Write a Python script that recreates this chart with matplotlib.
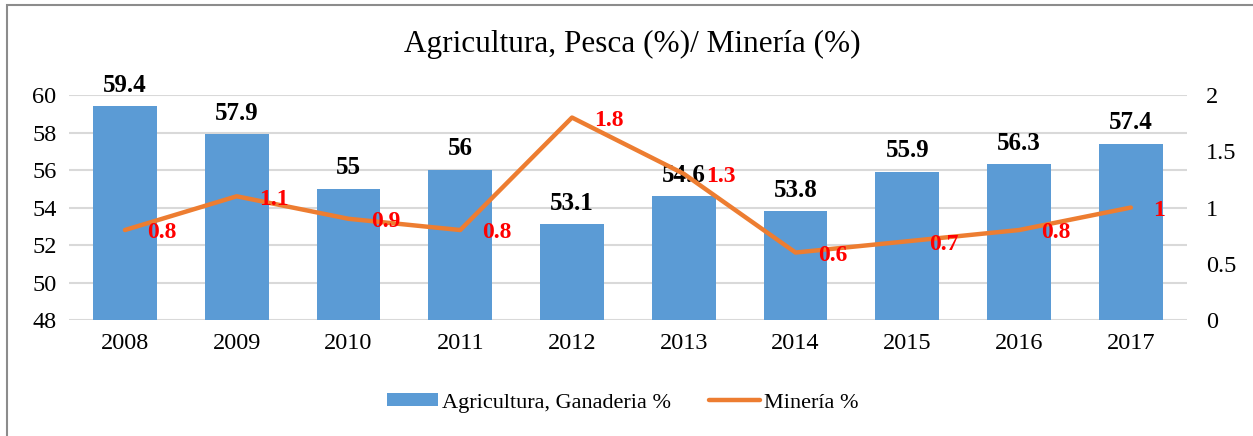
import matplotlib.pyplot as plt
from matplotlib.patches import Rectangle

plt.rcParams['font.family'] = ['Liberation Serif', 'DejaVu Serif']

years = ['2008', '2009', '2010', '2011', '2012', '2013', '2014', '2015', '2016', '2017']
agricultura = [59.4, 57.9, 55, 56, 53.1, 54.6, 53.8, 55.9, 56.3, 57.4]
mineria = [0.8, 1.1, 0.9, 0.8, 1.8, 1.3, 0.6, 0.7, 0.8, 1]
agr_labels = ['59.4', '57.9', '55', '56', '53.1', '54.6', '53.8', '55.9', '56.3', '57.4']
min_labels = ['0.8', '1.1', '0.9', '0.8', '1.8', '1.3', '0.6', '0.7', '0.8', '1']

fig = plt.figure(figsize=(12.53, 4.36), dpi=100)
ax = fig.add_axes([0.0551, 0.266, 0.892, 0.516])
ax2 = ax.twinx()

x = list(range(len(years)))
bars = ax.bar(x, agricultura, width=0.57, color='#5B9BD5', zorder=2,
              label='Agricultura, Ganaderia %')
ax.set_ylim(48, 60)
ax.set_yticks(range(48, 61, 2))
ax.set_xlim(-0.5, len(years) - 0.5)
ax.set_xticks(x)
ax.set_xticklabels(years)
ax.grid(axis='y', color='#D9D9D9', linewidth=1.5, zorder=0)
ax.set_axisbelow(True)
for s in ax.spines.values():
    s.set_visible(False)
ax.tick_params(length=0, labelsize=17.5, pad=9)

for xi, v, lab in zip(x, agricultura, agr_labels):
    ax.annotate(lab, (xi, v), xytext=(0, 7), textcoords='offset points',
                ha='center', va='bottom', fontsize=18, fontweight='bold')

line, = ax2.plot(x, mineria, color='#ED7D31', linewidth=3.2, zorder=3,
                 solid_capstyle='round', label='Minería %')
ax2.set_ylim(0, 2)
ax2.set_yticks([0, 0.5, 1, 1.5, 2])
ax2.set_yticklabels(['0', '0.5', '1', '1.5', '2'])
for s in ax2.spines.values():
    s.set_visible(False)
ax2.tick_params(length=0, labelsize=17.5, pad=14)

for xi, v, lab in zip(x, mineria, min_labels):
    ax2.annotate(lab, (xi, v), xytext=(16, -2), textcoords='offset points',
                 ha='left', va='center', fontsize=17, fontweight='bold', color='#FF0000')

fig.text(0.505, 0.897, 'Agricultura, Pesca (%)/ Minería (%)', ha='center', va='center',
         fontsize=22.5)

fig.legend(handles=[bars, line], loc='center', bbox_to_anchor=(0.497, 0.076),
           ncol=2, frameon=False, fontsize=16, handlelength=2.3, handleheight=0.55,
           columnspacing=1.7, handletextpad=0.2)

fig.patches.append(Rectangle((0.0056, -0.01), 1.0, 0.999, transform=fig.transFigure,
                             fill=False, edgecolor='#8C8C8C', linewidth=1.5))

fig.savefig('out.png', dpi=100)
